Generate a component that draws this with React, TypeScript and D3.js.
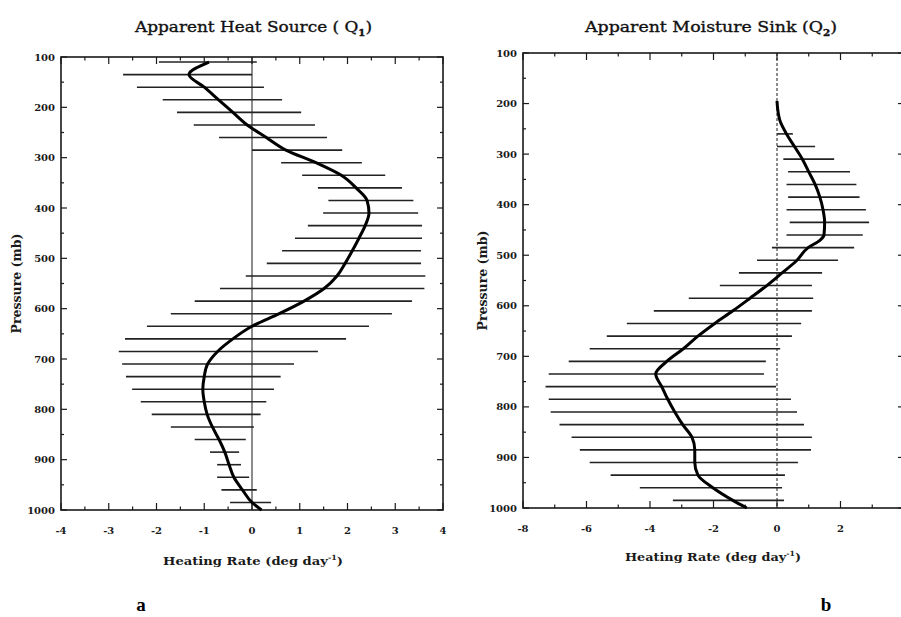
import React from "react";
import * as d3 from "d3";

// ---- data ----
const levels = [110,135,160,185,210,235,260,285,310,335,360,385,410,435,460,485,510,535,560,585,610,635,660,685,710,735,760,785,810,835,860,885,910,935,960,985];

const q1Low = [-1.95,-2.7,-2.41,-1.87,-1.57,-1.22,-0.69,0.0,0.61,1.05,1.38,1.6,1.49,1.17,0.9,0.63,0.31,-0.13,-0.67,-1.2,-1.7,-2.2,-2.66,-2.79,-2.72,-2.64,-2.51,-2.33,-2.1,-1.7,-1.2,-0.88,-0.73,-0.73,-0.64,-0.46];
const q1High = [0.1,0.0,0.25,0.63,1.03,1.32,1.57,1.89,2.3,2.79,3.14,3.38,3.48,3.56,3.56,3.54,3.54,3.63,3.61,3.35,2.93,2.45,1.97,1.38,0.88,0.6,0.46,0.3,0.18,0.04,-0.13,-0.27,-0.23,-0.06,0.1,0.4];

const q1MeanP = [110,135,160,185,210,235,260,285,310,335,360,385,410,435,460,485,510,535,560,585,610,635,660,685,710,735,760,785,810,835,860,885,910,935,960,985,1000];
const q1Mean = [-0.9,-1.32,-1.0,-0.7,-0.4,-0.1,0.3,0.71,1.34,1.87,2.18,2.41,2.45,2.37,2.24,2.1,1.95,1.78,1.51,1.09,0.57,0.0,-0.4,-0.72,-0.93,-1.0,-1.03,-1.0,-0.94,-0.83,-0.69,-0.57,-0.48,-0.38,-0.2,0.0,0.2];

const q2Low = [null,null,null,null,null,null,0.0,0.0,0.2,0.35,0.3,0.35,0.3,0.4,0.3,-0.16,-0.63,-1.2,-1.8,-2.78,-3.88,-4.73,-5.36,-5.9,-6.56,-7.19,-7.29,-7.19,-7.13,-6.85,-6.47,-6.21,-5.9,-5.24,-4.32,-3.28];
const q2High = [null,null,null,null,null,null,0.5,1.2,1.8,2.3,2.5,2.6,2.8,2.9,2.7,2.43,1.92,1.42,1.1,1.14,1.1,0.76,0.47,0.1,-0.35,-0.41,-0.03,0.44,0.63,0.85,1.1,1.07,0.66,0.25,0.16,0.22];

const q2MeanP = [195,210,235,260,285,310,335,360,385,410,435,460,470,485,510,535,560,585,610,635,660,685,710,735,760,785,810,835,860,885,910,935,960,985,1000];
const q2Mean = [0.0,0.02,0.1,0.3,0.55,0.8,1.0,1.2,1.35,1.45,1.5,1.48,1.36,0.98,0.63,0.16,-0.32,-0.85,-1.39,-1.96,-2.49,-2.95,-3.47,-3.82,-3.63,-3.44,-3.22,-2.97,-2.68,-2.59,-2.59,-2.49,-2.02,-1.39,-0.95];

const yTickLabels = [100,200,300,400,500,600,700,800,900,1000];
const q1XTickLabels = [-4,-3,-2,-1,0,1,2,3,4];
const q2XTickLabels = [-8,-6,-4,-2,0,2];

const SERIF = "'DejaVu Serif', 'Liberation Serif', serif";

type PanelProps = {
  x0: number; x1: number; y0: number; y1: number;
  xDomain: [number, number];
  majorStep: number; minorStep: number;
  xLabels: number[];
  low: (number | null)[]; high: (number | null)[];
  meanP: number[]; mean: number[];
  dashedZero: boolean;
  title: string; sub: string; titleX: number; titleW: number;
  yLabelX: number; xLabelX: number; xLabelY: number; xLabelW: number;
  letter: string; letterX: number;
};

function Panel(p: PanelProps) {
  const x = d3.scaleLinear().domain(p.xDomain).range([p.x0, p.x1]);
  const y = d3.scaleLinear().domain([100, 1000]).range([p.y0, p.y1]);
  const majors = d3.range(p.xDomain[0], p.xDomain[1] + 1e-9, p.majorStep);
  const minors = d3.range(p.xDomain[0] + p.minorStep, p.xDomain[1], p.majorStep);
  const yMaj = d3.range(100, 1001, 100);
  const yMin = d3.range(150, 1000, 100);
  const line = d3.line<number>()
    .x((d) => x(d))
    .y((_, i) => y(p.meanP[i]))
    .curve(d3.curveMonotoneY);
  const ink = "#1a1a1a";
  return (
    <g>
      <rect x={p.x0} y={p.y0} width={p.x1 - p.x0} height={p.y1 - p.y0} fill="none" stroke={ink} strokeWidth={1.6} />
      <line x1={x(0)} x2={x(0)} y1={p.y0} y2={p.y1} stroke={ink} strokeWidth={1}
        strokeDasharray={p.dashedZero ? "3,2" : undefined} />
      {majors.map((v) => (
        <g key={"M" + v}>
          <line x1={x(v)} x2={x(v)} y1={p.y1} y2={p.y1 - 7} stroke={ink} strokeWidth={1.2} />
          <line x1={x(v)} x2={x(v)} y1={p.y0} y2={p.y0 + 7} stroke={ink} strokeWidth={1.2} />
        </g>
      ))}
      {minors.map((v) => (
        <g key={"m" + v}>
          <line x1={x(v)} x2={x(v)} y1={p.y1} y2={p.y1 - 3.5} stroke={ink} strokeWidth={1.2} />
          <line x1={x(v)} x2={x(v)} y1={p.y0} y2={p.y0 + 3.5} stroke={ink} strokeWidth={1.2} />
        </g>
      ))}
      {yMaj.map((v) => (
        <g key={"Y" + v}>
          <line x1={p.x0} x2={p.x0 + 6} y1={y(v)} y2={y(v)} stroke={ink} strokeWidth={1.2} />
          <line x1={p.x1} x2={p.x1 - 6} y1={y(v)} y2={y(v)} stroke={ink} strokeWidth={1.2} />
        </g>
      ))}
      {yMin.map((v) => (
        <g key={"y" + v}>
          <line x1={p.x0} x2={p.x0 + 3} y1={y(v)} y2={y(v)} stroke={ink} strokeWidth={1.2} />
          <line x1={p.x1} x2={p.x1 - 3} y1={y(v)} y2={y(v)} stroke={ink} strokeWidth={1.2} />
        </g>
      ))}
      {yTickLabels.map((v) => (
        <text key={"yl" + v} x={p.x0 - 6} y={y(v) + 3.5} textAnchor="end" fontFamily={SERIF}
          fontWeight="bold" fontSize={10} fill={ink}>{v}</text>
      ))}
      {p.xLabels.map((v) => (
        <text key={"xl" + v} x={x(v)} y={p.y1 + 24} textAnchor="middle" fontFamily={SERIF}
          fontWeight="bold" fontSize={10} fill={ink}>{v < 0 ? "-" + Math.abs(v) : String(v)}</text>
      ))}
      {levels.map((lv, i) => {
        const lo = p.low[i], hi = p.high[i];
        if (lo == null || hi == null) return null;
        return <line key={"b" + lv} x1={x(lo)} x2={x(hi)} y1={y(lv)} y2={y(lv)} stroke="#222" strokeWidth={1.6} />;
      })}
      <path d={line(p.mean) || ""} fill="none" stroke="#000" strokeWidth={3} />
      <text x={p.titleX} y={32} fontFamily={SERIF} fontSize={15} fill="#111" stroke="#111" strokeWidth={0.35}
        textLength={p.titleW} lengthAdjust="spacingAndGlyphs">
        {p.title}
        <tspan dy={4} fontSize={9} fontWeight="bold">{p.sub}</tspan>
        <tspan dy={-4}>)</tspan>
      </text>
      <text transform={`translate(${p.yLabelX},${(p.y0 + p.y1) / 2}) rotate(-90)`} textAnchor="middle"
        fontFamily={SERIF} fontWeight="bold" fontSize={12.5} fill={ink}>Pressure (mb)</text>
      <text x={p.xLabelX} y={p.xLabelY} fontFamily={SERIF} fontWeight="bold" fontSize={11.5} fill={ink}
        textLength={p.xLabelW} lengthAdjust="spacingAndGlyphs">
        Heating Rate (deg day<tspan dy={-5} fontSize={7}>-1</tspan><tspan dy={5}>)</tspan>
      </text>
      <text x={p.letterX} y={611} textAnchor="middle" fontFamily="'Liberation Serif', serif" fontWeight="bold"
        fontSize={19} fill="#000">{p.letter}</text>
    </g>
  );
}

export default function App() {
  return (
    <svg width={901} height={617} style={{ position: "absolute", left: 0, top: 0, background: "#fff" }}>
      <rect x={0} y={0} width={901} height={617} fill="#fff" />
      <Panel x0={61} x1={443} y0={57} y1={510} xDomain={[-4, 4]} majorStep={1} minorStep={0.5}
        xLabels={q1XTickLabels} low={q1Low} high={q1High} meanP={q1MeanP} mean={q1Mean} dashedZero={false}
        title="Apparent Heat Source ( Q" sub="1" titleX={135} titleW={237}
        yLabelX={21} xLabelX={163} xLabelY={565} xLabelW={180} letter="a" letterX={141} />
      <Panel x0={523} x1={904} y0={53} y1={508} xDomain={[-8, 4]} majorStep={2} minorStep={1}
        xLabels={q2XTickLabels} low={q2Low} high={q2High} meanP={q2MeanP} mean={q2Mean} dashedZero={true}
        title="Apparent Moisture Sink (Q" sub="2" titleX={585} titleW={252}
        yLabelX={487} xLabelX={625} xLabelY={561} xLabelW={176} letter="b" letterX={826} />
    </svg>
  );
}
